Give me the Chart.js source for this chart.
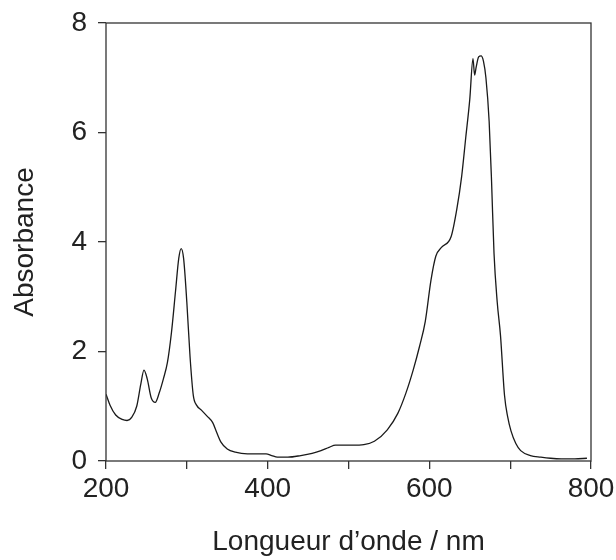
<!DOCTYPE html>
<html>
<head>
  <meta charset="UTF-8">
  <title>Spectre d'absorption</title>
  <script src="https://cdn.jsdelivr.net/npm/chart.js"></script>
  <style>
    html, body { margin: 0; padding: 0; background: #fff; }
    #wrap { width: 616px; height: 560px; }
  </style>
  <script>
    // wavelength (nm) and absorbance
    const wavelength = [200, 205, 212, 220, 226, 232, 238, 243, 247, 251, 256, 261, 266, 271, 276, 281, 286, 290, 293, 296, 300, 304, 308, 312, 318, 325, 332, 337, 342, 350, 360, 375, 390, 398, 405, 412, 425, 441, 455, 466, 476, 484, 490, 505, 519, 532, 548, 561, 571, 580, 588, 595, 602, 608, 615, 627, 634, 640, 645, 650, 654, 656, 658, 661, 664, 667, 670, 674, 677, 680, 684, 688, 693, 697, 701, 707, 713, 725, 738, 750, 763, 780, 795];
    const absorbance = [1.22, 1.02, 0.84, 0.76, 0.74, 0.80, 1.00, 1.40, 1.66, 1.50, 1.15, 1.07, 1.25, 1.50, 1.80, 2.35, 3.10, 3.70, 3.88, 3.70, 2.90, 1.90, 1.20, 1.02, 0.93, 0.82, 0.70, 0.52, 0.35, 0.22, 0.16, 0.13, 0.13, 0.13, 0.10, 0.07, 0.07, 0.10, 0.14, 0.19, 0.25, 0.29, 0.29, 0.29, 0.30, 0.36, 0.57, 0.87, 1.24, 1.66, 2.10, 2.55, 3.30, 3.74, 3.90, 4.10, 4.60, 5.20, 5.90, 6.60, 7.35, 7.05, 7.20, 7.38, 7.40, 7.30, 7.00, 6.20, 5.10, 3.80, 2.90, 2.30, 1.20, 0.80, 0.55, 0.32, 0.19, 0.10, 0.07, 0.05, 0.04, 0.04, 0.05];
    const xTicks = [200, 400, 600, 800];
    const yTicks = [0, 2, 4, 6, 8];

    // box round the plot area (top and right sides too)
    const frame = {
      id: 'frame',
      afterDraw(chart) {
        const a = chart.chartArea;
        const c = chart.ctx;
        c.save();
        c.strokeStyle = '#333';
        c.lineWidth = 1.3;
        c.strokeRect(a.left, a.top, a.right - a.left, a.bottom - a.top);
        c.restore();
      }
    };

    window.onload = () => {
      const ctx = document.getElementById('spec').getContext('2d');
      const font = { family: "'Liberation Sans', Arial, sans-serif", size: 28 };

      new Chart(ctx, {
        type: 'line',
        data: {
          datasets: [{
            data: wavelength.map((w, i) => ({ x: w, y: absorbance[i] })),
            borderColor: '#1a1a1a',
            borderWidth: 1.3,
            pointRadius: 0,
            cubicInterpolationMode: 'monotone',
            fill: false
          }]
        },
        plugins: [frame],
        options: {
          responsive: false,
          animation: false,
          layout: { padding: { top: 23, right: 25, left: 0, bottom: 0 } },
          plugins: { legend: { display: false }, tooltip: { enabled: false } },
          scales: {
            x: {
              type: 'linear',
              min: 200,
              max: 800,
              // fixed height, and no extra room for the end labels
              afterFit: s => { s.height = 99; s.paddingLeft = 0; s.paddingRight = 0; },
              border: { display: false },
              grid: { drawOnChartArea: false, drawTicks: true, tickLength: 8, tickColor: '#333', lineWidth: 1.3 },
              ticks: {
                stepSize: 100,
                color: '#222',
                font: font,
                padding: 3,
                maxRotation: 0,
                callback: v => xTicks.includes(v) ? String(v) : ''
              },
              title: {
                display: true,
                text: 'Longueur d\u2019onde / nm',
                color: '#222',
                font: font,
                padding: { top: 0, bottom: 1 }
              }
            },
            y: {
              min: 0,
              max: 8,
              afterFit: s => { s.width = 106; s.paddingTop = 0; s.paddingBottom = 0; },
              border: { display: false },
              grid: { drawOnChartArea: false, drawTicks: true, tickLength: 8, tickColor: '#333', lineWidth: 1.3 },
              ticks: {
                stepSize: 2,
                color: '#222',
                font: font,
                padding: 11,
                callback: v => yTicks.includes(v) ? String(v) : ''
              },
              title: {
                display: true,
                text: 'Absorbance',
                color: '#222',
                font: font,
                padding: { top: 8, bottom: 0 }
              }
            }
          }
        }
      });
    };
  </script>
</head>
<body>
  <div id="wrap"><canvas id="spec" width="616" height="560"></canvas></div>
</body>
</html>
